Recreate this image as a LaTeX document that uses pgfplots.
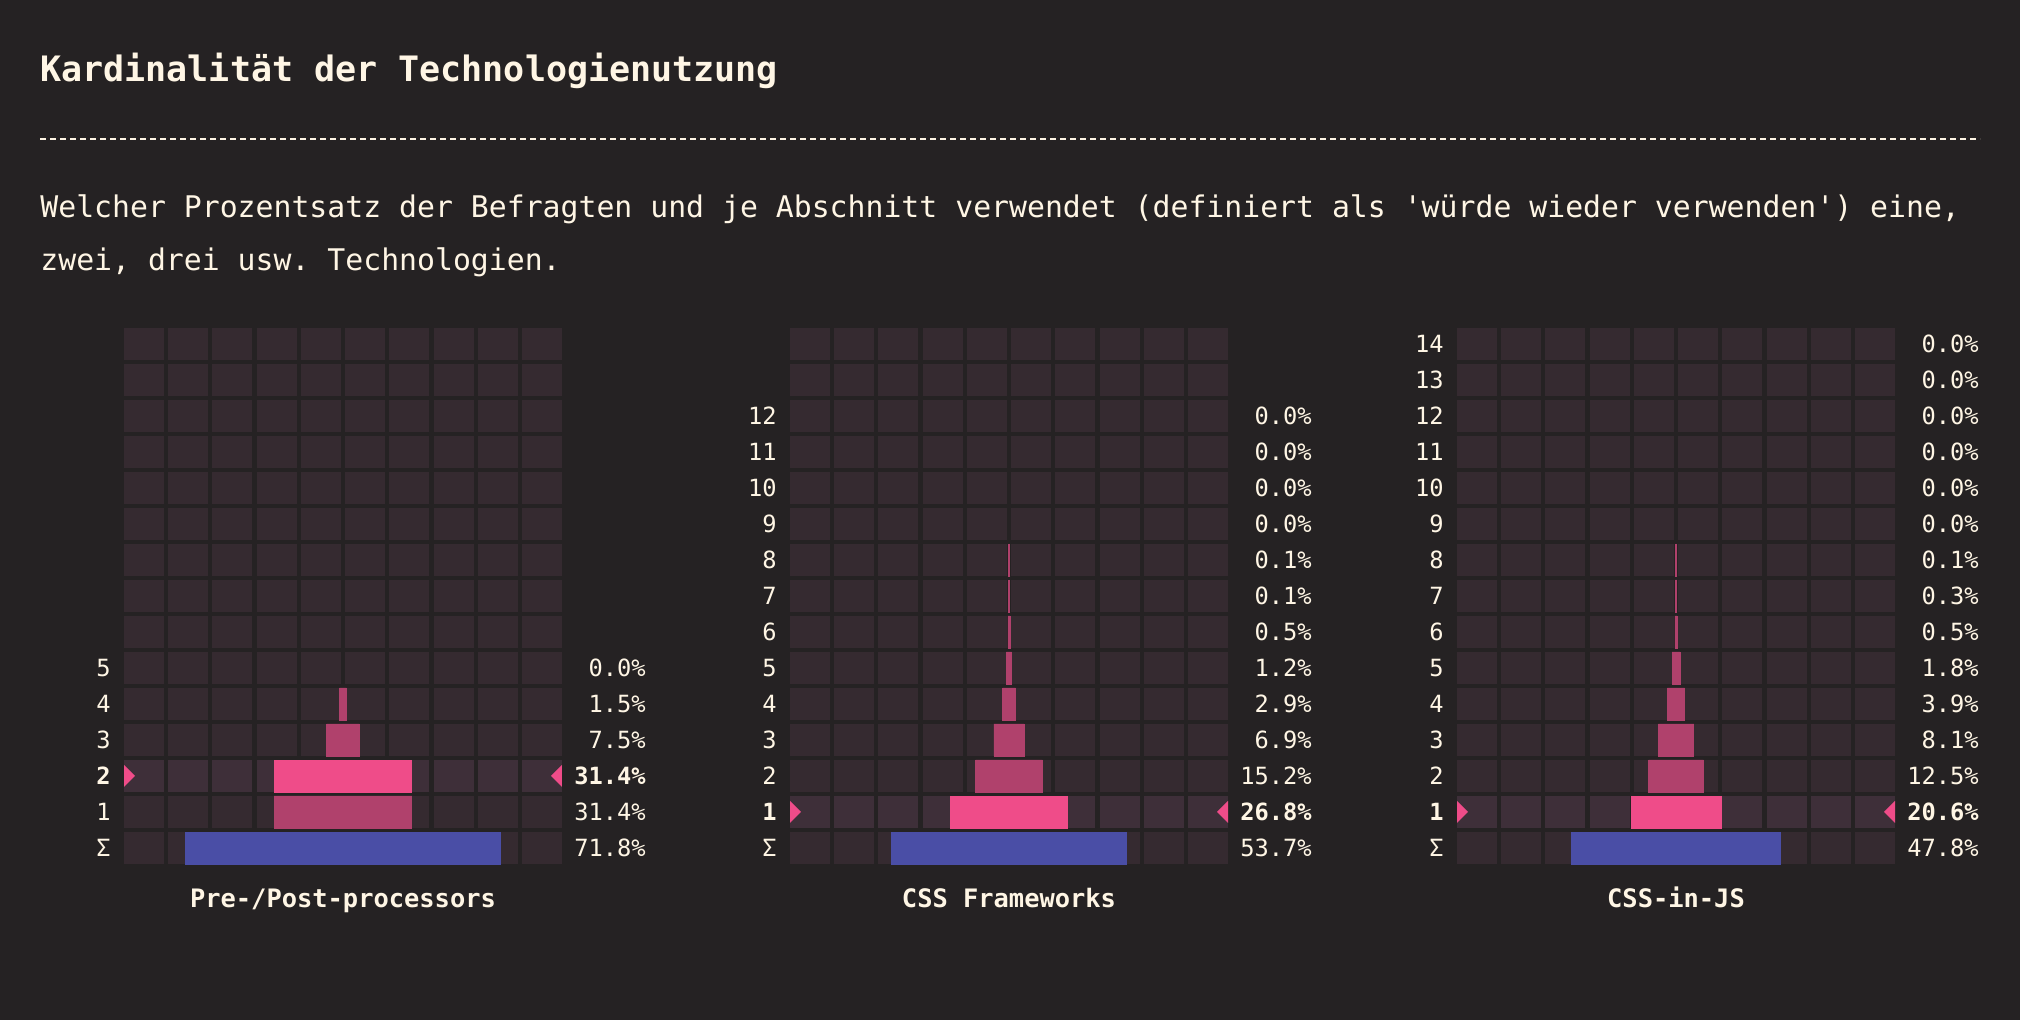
\documentclass[border=0pt]{standalone}
\usepackage{fontspec}
\setmonofont{DejaVu Sans Mono}
\renewcommand*{\familydefault}{\ttdefault}
\usepackage{pgfplots}
\pgfplotsset{compat=1.18}
\usepackage{pgfplotstable}

\definecolor{bgc}{RGB}{37,34,35}
\definecolor{cellc}{RGB}{53,42,48}
\definecolor{cellh}{RGB}{62,47,57}
\definecolor{cpink}{RGB}{239,76,137}
\definecolor{cmag}{RGB}{176,65,108}
\definecolor{cblue}{RGB}{74,78,166}
\definecolor{ctext}{RGB}{255,246,229}

% ---- data: r = row (0 = sum), v = percent ----
\pgfplotstableread{
r v
1 31.4
3 7.5
4 1.5
}\ppOther
\pgfplotstableread{
r v
2 31.4
}\ppHigh
\pgfplotstableread{
r v
0 71.8
}\ppSum

\pgfplotstableread{
r v
2 15.2
3 6.9
4 2.9
5 1.2
6 0.5
7 0.1
8 0.1
}\cfOther
\pgfplotstableread{
r v
1 26.8
}\cfHigh
\pgfplotstableread{
r v
0 53.7
}\cfSum

\pgfplotstableread{
r v
2 12.5
3 8.1
4 3.9
5 1.8
6 0.5
7 0.3
8 0.1
}\jsOther
\pgfplotstableread{
r v
1 20.6
}\jsHigh
\pgfplotstableread{
r v
0 47.8
}\jsSum

\newcommand{\lblfont}{\fontsize{11.85pt}{14pt}\selectfont}
\newcommand{\ttlfont}{\fontsize{12.7pt}{15pt}\selectfont\bfseries}

\newcommand{\lab}[3]{%
  \node[anchor=east, inner sep=0pt, font=\lblfont, text=ctext, xshift=-6.5pt] at (axis cs:-100,#1) {#2};
  \node[anchor=east, inner sep=0pt, font=\lblfont, text=ctext, xshift=42pt] at (axis cs:100,#1) {#3};}
\newcommand{\labb}[3]{%
  \node[anchor=east, inner sep=0pt, font=\lblfont\bfseries, text=ctext, xshift=-6.5pt] at (axis cs:-100,#1) {#2};
  \node[anchor=east, inner sep=0pt, font=\lblfont\bfseries, text=ctext, xshift=42pt] at (axis cs:100,#1) {#3};}

\newcommand{\cells}[2]{%
  \foreach \r in {0,...,14}{
    \foreach \k in {0,...,9}{
      \pgfmathsetmacro{\xa}{#1+\k*22.111}
      \pgfmathsetmacro{\ya}{78+18*\r}
      \ifnum\r=#2
        \fill[cellh] (\xa pt,\ya pt) rectangle ++(20pt,16pt);
      \else
        \fill[cellc] (\xa pt,\ya pt) rectangle ++(20pt,16pt);
      \fi
    }}}

\pgfdeclareplotmark{triR}{%
  \pgfpathmoveto{\pgfpoint{0pt}{5.5pt}}%
  \pgfpathlineto{\pgfpoint{5.5pt}{0pt}}%
  \pgfpathlineto{\pgfpoint{0pt}{-5.5pt}}%
  \pgfpathclose\pgfusepathqfill}
\pgfdeclareplotmark{triL}{%
  \pgfpathmoveto{\pgfpoint{0pt}{5.5pt}}%
  \pgfpathlineto{\pgfpoint{-5.5pt}{0pt}}%
  \pgfpathlineto{\pgfpoint{0pt}{-5.5pt}}%
  \pgfpathclose\pgfusepathqfill}

\pgfplotsset{
  panel/.style={anchor=south west, scale only axis, width=219pt, height=270pt,
    xmin=-100, xmax=100, ymin=-0.5, ymax=14.5, hide axis, clip=false},
  hbar/.style={xbar, bar shift=0pt, bar width=16pt, fill=#1, draw=#1, line width=0.3pt, forget plot},
  tri/.style={only marks, mark=#1, mark options={fill=cpink, draw=none}, forget plot},
}

\begin{document}
\frenchspacing
\begin{tikzpicture}
\fill[bgc] (0,0) rectangle (1010pt,510pt);

\node[anchor=base west, inner sep=0pt, text=ctext, font=\fontsize{17.5pt}{21pt}\selectfont\bfseries] at (20pt,469pt) {Kardinalität der Technologienutzung};
\draw[ctext, line width=1pt, dash pattern=on 3pt off 2pt] (20pt,440.5pt) -- (990pt,440.5pt);
\node[anchor=base west, inner sep=0pt, text=ctext, font=\fontsize{14.9pt}{18pt}\selectfont] at (20pt,401pt) {Welcher Prozentsatz der Befragten und je Abschnitt verwendet (definiert als \textquotesingle würde wieder verwenden\textquotesingle) eine,};
\node[anchor=base west, inner sep=0pt, text=ctext, font=\fontsize{14.9pt}{18pt}\selectfont] at (20pt,374.5pt) {zwei, drei usw. Technologien.};

\cells{62}{2}
\cells{395}{1}
\cells{728.5}{1}

% Panel 1
\begin{axis}[panel, at={(62pt,77pt)}]
\addplot[hbar=cmag] table[x=v,y=r]{\ppOther};
\addplot[hbar=cmag] table[x expr=-\thisrow{v},y=r]{\ppOther};
\addplot[hbar=cpink] table[x=v,y=r]{\ppHigh};
\addplot[hbar=cpink] table[x expr=-\thisrow{v},y=r]{\ppHigh};
\addplot[hbar=cblue] table[x=v,y=r]{\ppSum};
\addplot[hbar=cblue] table[x expr=-\thisrow{v},y=r]{\ppSum};
\addplot[tri=triR] coordinates {(-100,2)};
\addplot[tri=triL] coordinates {(100,2)};
\lab{0}{Σ}{71.8\%}
\lab{1}{1}{31.4\%}
\labb{2}{2}{31.4\%}
\lab{3}{3}{7.5\%}
\lab{4}{4}{1.5\%}
\lab{5}{5}{0.0\%}
\node[anchor=base, inner sep=0pt, text=ctext, font=\ttlfont, yshift=-21pt] at (axis cs:0,-0.5) {Pre-/Post-processors};
\end{axis}

% Panel 2
\begin{axis}[panel, at={(395pt,77pt)}]
\addplot[hbar=cmag] table[x=v,y=r]{\cfOther};
\addplot[hbar=cmag] table[x expr=-\thisrow{v},y=r]{\cfOther};
\addplot[hbar=cpink] table[x=v,y=r]{\cfHigh};
\addplot[hbar=cpink] table[x expr=-\thisrow{v},y=r]{\cfHigh};
\addplot[hbar=cblue] table[x=v,y=r]{\cfSum};
\addplot[hbar=cblue] table[x expr=-\thisrow{v},y=r]{\cfSum};
\addplot[tri=triR] coordinates {(-100,1)};
\addplot[tri=triL] coordinates {(100,1)};
\lab{0}{Σ}{53.7\%}
\labb{1}{1}{26.8\%}
\lab{2}{2}{15.2\%}
\lab{3}{3}{6.9\%}
\lab{4}{4}{2.9\%}
\lab{5}{5}{1.2\%}
\lab{6}{6}{0.5\%}
\lab{7}{7}{0.1\%}
\lab{8}{8}{0.1\%}
\lab{9}{9}{0.0\%}
\lab{10}{10}{0.0\%}
\lab{11}{11}{0.0\%}
\lab{12}{12}{0.0\%}
\node[anchor=base, inner sep=0pt, text=ctext, font=\ttlfont, yshift=-21pt] at (axis cs:0,-0.5) {CSS Frameworks};
\end{axis}

% Panel 3
\begin{axis}[panel, at={(728.5pt,77pt)}]
\addplot[hbar=cmag] table[x=v,y=r]{\jsOther};
\addplot[hbar=cmag] table[x expr=-\thisrow{v},y=r]{\jsOther};
\addplot[hbar=cpink] table[x=v,y=r]{\jsHigh};
\addplot[hbar=cpink] table[x expr=-\thisrow{v},y=r]{\jsHigh};
\addplot[hbar=cblue] table[x=v,y=r]{\jsSum};
\addplot[hbar=cblue] table[x expr=-\thisrow{v},y=r]{\jsSum};
\addplot[tri=triR] coordinates {(-100,1)};
\addplot[tri=triL] coordinates {(100,1)};
\lab{0}{Σ}{47.8\%}
\labb{1}{1}{20.6\%}
\lab{2}{2}{12.5\%}
\lab{3}{3}{8.1\%}
\lab{4}{4}{3.9\%}
\lab{5}{5}{1.8\%}
\lab{6}{6}{0.5\%}
\lab{7}{7}{0.3\%}
\lab{8}{8}{0.1\%}
\lab{9}{9}{0.0\%}
\lab{10}{10}{0.0\%}
\lab{11}{11}{0.0\%}
\lab{12}{12}{0.0\%}
\lab{13}{13}{0.0\%}
\lab{14}{14}{0.0\%}
\node[anchor=base, inner sep=0pt, text=ctext, font=\ttlfont, yshift=-21pt] at (axis cs:0,-0.5) {CSS-in-JS};
\end{axis}

\pgfresetboundingbox
\path (0,0) rectangle (1010pt,510pt);
\end{tikzpicture}
\end{document}
